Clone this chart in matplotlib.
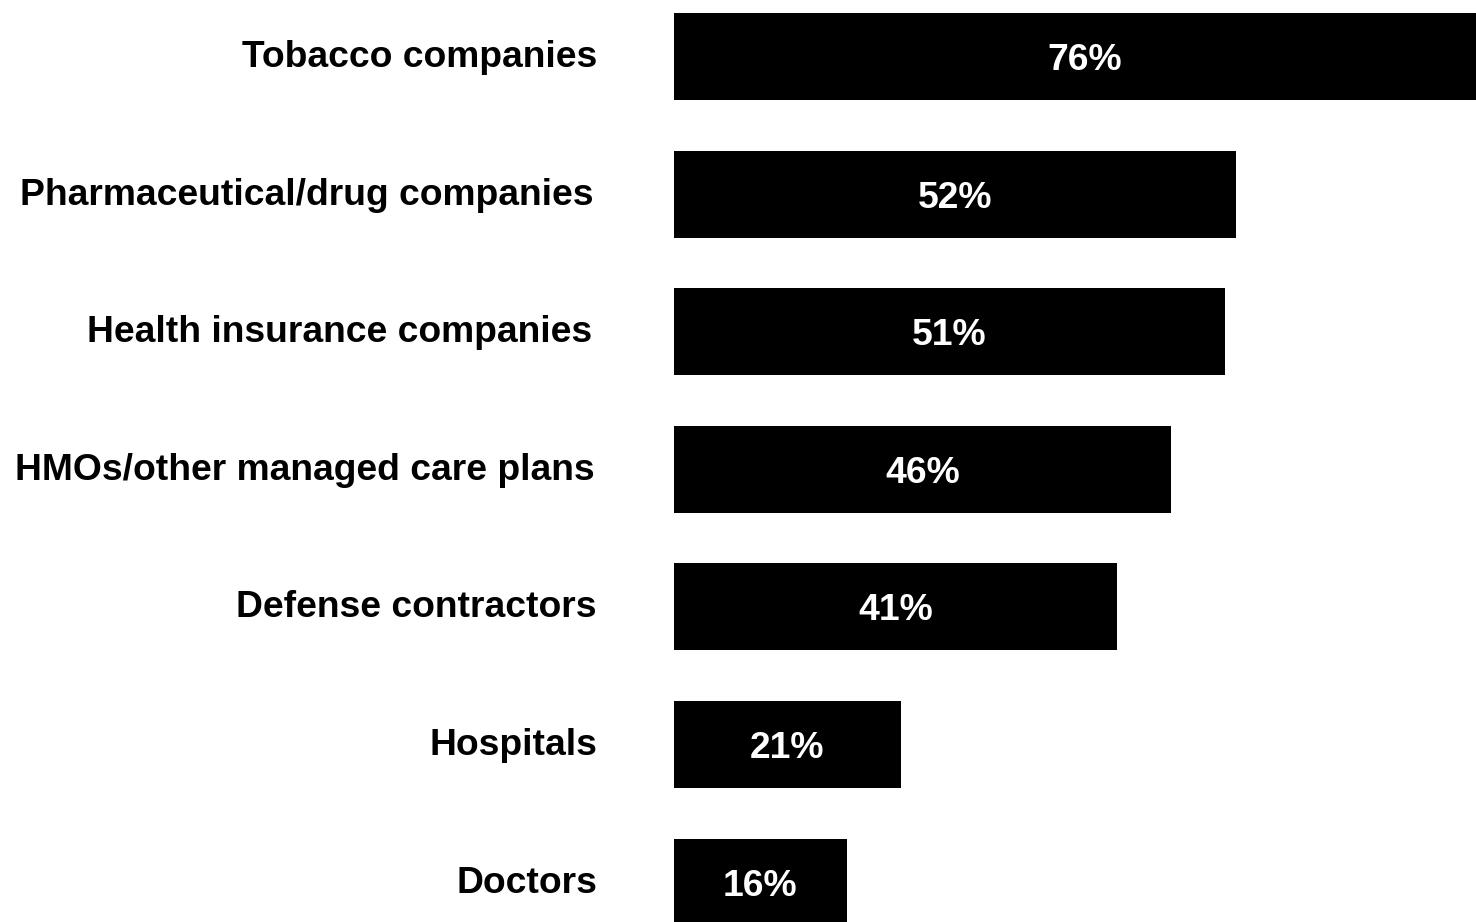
import matplotlib
matplotlib.use("Agg")
import matplotlib.pyplot as plt

categories = [
    "Tobacco companies",
    "Pharmaceutical/drug companies",
    "Health insurance companies",
    "HMOs/other managed care plans",
    "Defense contractors",
    "Hospitals",
    "Doctors",
]
values = [76, 52, 51, 46, 41, 21, 16]

plt.rcParams['font.family'] = ['Liberation Sans', 'DejaVu Sans']

W, H, DPI = 1476, 922, 100
fig = plt.figure(figsize=(W / DPI, H / DPI), dpi=DPI)
fig.patch.set_facecolor("white")

left_px = 674
ax = fig.add_axes([left_px / W, 0.0, 1 - left_px / W, 1.0])

px_per_unit = 10.8
ax.set_xlim(0, (W - left_px) / px_per_unit)

step = 137.6
first_center = 56.5
ax.set_ylim((H - first_center) / step, -first_center / step)

ypos = list(range(len(categories)))
ax.barh(ypos, values, height=0.632, color="black", edgecolor="none")

FS = 26.8
for y, v in zip(ypos, values):
    ax.text(v / 2, y, f"{v}%", color="white", fontsize=FS, fontweight="bold",
            ha="center", va="center_baseline")

# gap (in pixels) between each category label's right edge and the bars
label_gap_px = [77, 80, 82, 79, 77, 77, 77]
for y, name, gap in zip(ypos, categories, label_gap_px):
    ax.annotate(name, xy=(0, y), xycoords=("axes fraction", "data"),
                xytext=(-gap * 72 / DPI, 3 * 72 / DPI), textcoords="offset points",
                ha="right", va="center_baseline", fontsize=FS,
                fontweight="bold", color="black", annotation_clip=False)

ax.set_xticks([])
ax.set_yticks([])
for s in ax.spines.values():
    s.set_visible(False)

fig.savefig("out.png", dpi=DPI, facecolor="white")
